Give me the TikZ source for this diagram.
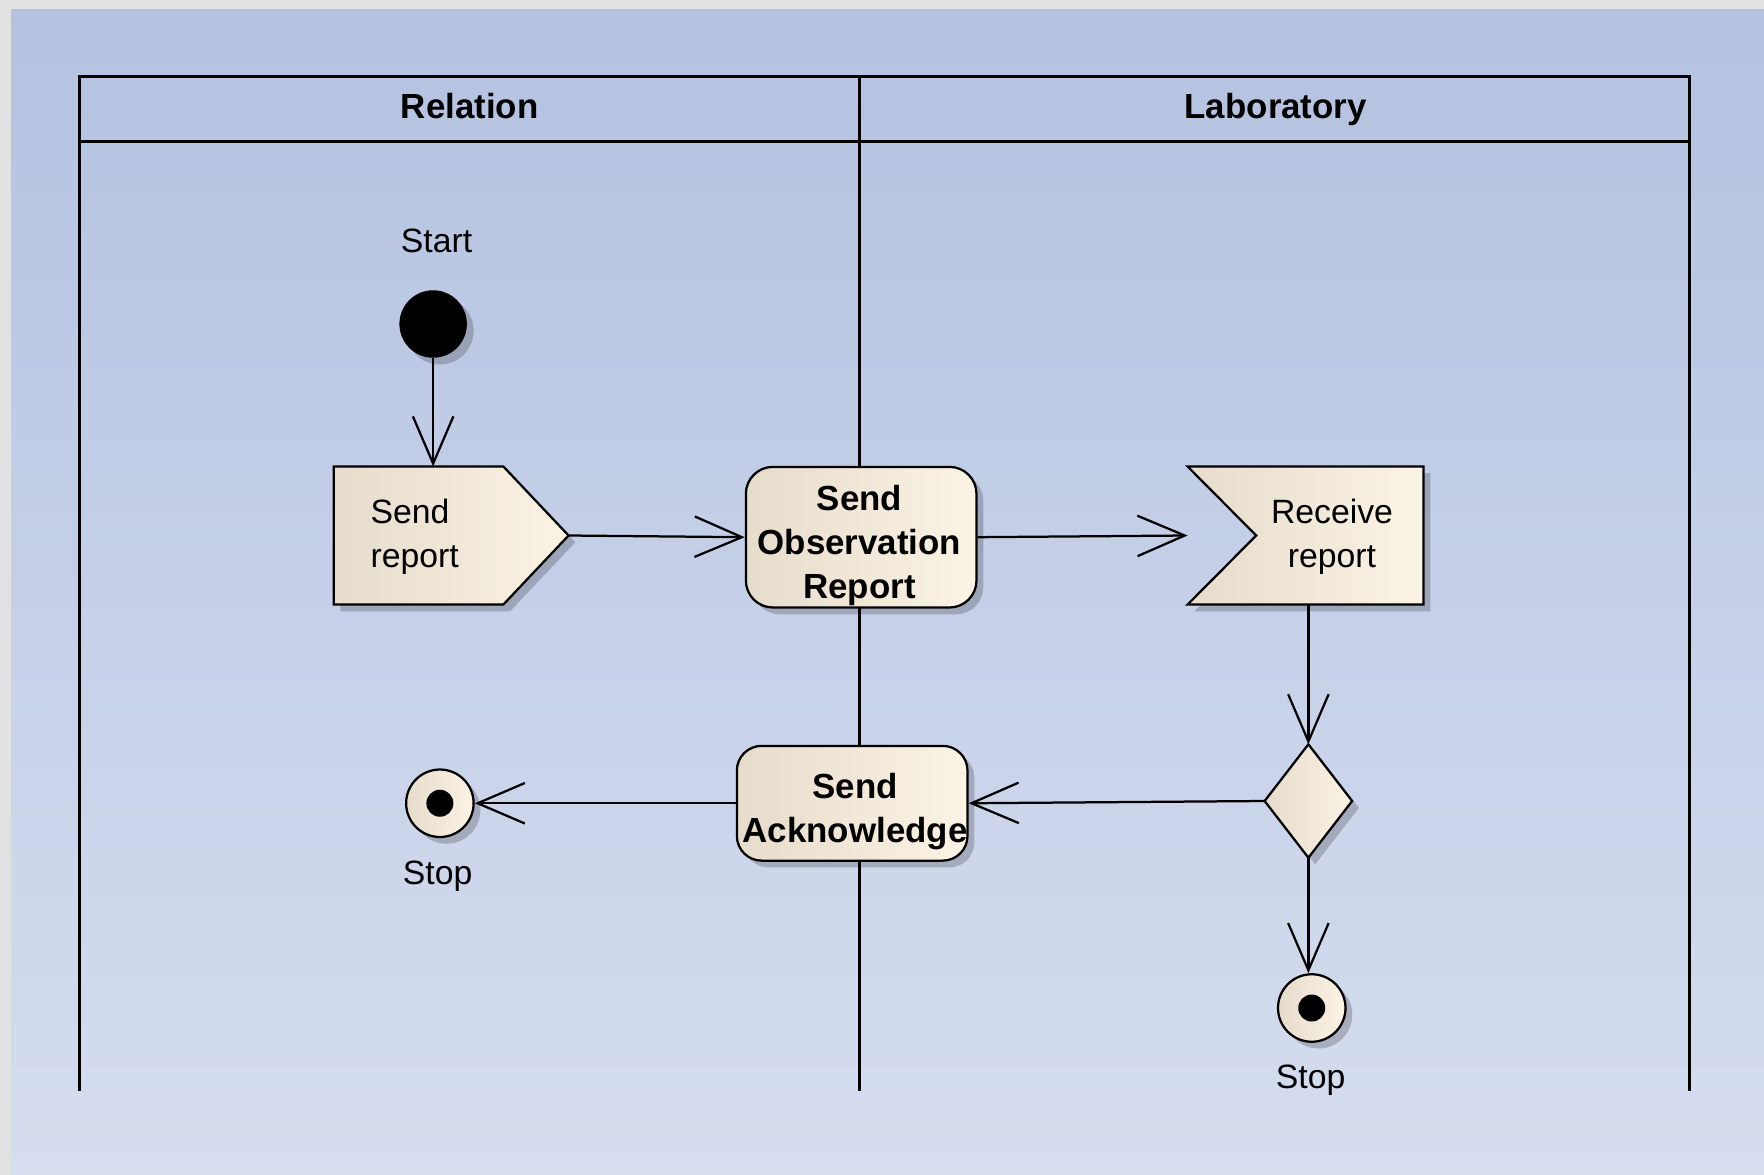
\documentclass[tikz,border=0pt]{standalone}
\usepackage{fontspec}
\setmainfont{Liberation Sans}
\usetikzlibrary{arrows.meta,shadows}
\definecolor{bgtop}{RGB}{180,194,224}
\definecolor{bgbot}{RGB}{214,221,239}
\definecolor{nodeL}{RGB}{230,220,204}
\definecolor{nodeR}{RGB}{251,243,228}
\definecolor{strip}{RGB}{226,226,226}
\begin{document}
\begin{tikzpicture}[x=0.5pt,y=-0.5pt,
  mysh/.style={drop shadow={shadow xshift=3pt,shadow yshift=-3pt,fill=black,opacity=0.2}},
  boxfill/.style={left color=nodeL,right color=nodeR,draw=black,line width=1pt,mysh},
  lane/.style={line width=1.25pt,draw=black},
  hdr/.style={font=\fontsize{15.5}{19.5}\selectfont\bfseries,inner sep=0pt,anchor=base},
  txt/.style={font=\fontsize{15}{19.5}\selectfont,inner sep=0pt},
  acttxt/.style={font=\fontsize{15.5}{19.5}\selectfont\bfseries,inner sep=0pt,align=center},
  actbox/.style={boxfill,rounded corners=12pt,inner sep=0pt},
  anchorbox/.style={inner sep=0pt,draw=none},
  stopc/.style={circle,boxfill,minimum size=30pt,inner sep=0pt},
  dotc/.style={circle,fill=black,minimum size=12pt,inner sep=0pt},
  flow/.style={line width=1pt,-{Straight Barb[length=21pt,width=18pt]}}
]
\useasboundingbox (0,0) rectangle (1568,1044);
% background
\fill[strip] (0,0) rectangle (1568,1044);
\shade[top color=bgtop,bottom color=bgbot] (10,8) rectangle (1568,1044);
% swimlanes
\draw[lane] (71,970) -- (71,68) -- (1502,68) -- (1502,970);
\draw[lane] (71,126) -- (1502,126);
\draw[lane] (764,68) -- (764,970);
\node[hdr] (relation) at (417.5,105) {Relation};
\node[hdr] (laboratory) at (1134,105) {Laboratory};
% start
\node[circle,fill=black,minimum size=30pt,inner sep=0pt,mysh] (start) at (385,288) {};
\node[txt] (startlbl) at (388,214) {Start};
% send report (send signal)
\node[anchorbox,minimum width=104pt,minimum height=61pt] (sendr) at (401,476) {};
\path[boxfill] (sendr.north west) -- ([xshift=-29pt]sendr.north east) -- (sendr.east)
  -- ([xshift=-29pt]sendr.south east) -- (sendr.south west) -- cycle;
\node[txt,align=left,anchor=west] (sendrtxt) at (329,477) {Send\\report};
% send observation report
\node[actbox,minimum width=102.5pt,minimum height=62.5pt] (sor) at (765.5,477.5) {};
\node[acttxt] (sortxt) at (764,485) {Send\\Observation\\Report};
% receive report (accept signal)
\node[anchorbox,minimum width=104.5pt,minimum height=61pt] (recv) at (1160.5,476) {};
\path[boxfill] (recv.north west) -- (recv.north east) -- (recv.south east)
  -- (recv.south west) -- ([xshift=30.5pt]recv.west) -- cycle;
\node[txt,align=center] (recvtxt) at (1184,477) {Receive\\report};
% decision
\node[anchorbox,minimum width=38.5pt,minimum height=50pt] (dec) at (1163,712) {};
\path[boxfill] (dec.north) -- (dec.east) -- (dec.south) -- (dec.west) -- cycle;
% send acknowledge
\node[actbox,rounded corners=11pt,minimum width=102.5pt,minimum height=51pt] (ack) at (757.5,714) {};
\node[acttxt] (acktxt) at (760,721) {Send\\Acknowledge};
% stops
\node[stopc] (stopl) at (391,714) {};
\node[dotc] (stopldot) at (stopl.center) {};
\node[txt] (stopllbl) at (389,779) {Stop};
\node[stopc] (stopr) at (1166,896) {};
\node[dotc] (stoprdot) at (stopr.center) {};
\node[txt] (stoprlbl) at (1165,960) {Stop};
% connectors
\draw[flow] (start.south) -- (start.south |- sendr.north);
\draw[flow] (sendr.east) -- (sor.west);
\draw[flow] (sor.east) -- (recv.west);
\draw[flow] (dec.north |- recv.south) -- (dec.north);
\draw[flow] (dec.west) -- (ack.east);
\draw[flow] (ack.west) -- (stopl.east);
\draw[flow] (dec.south) -- (dec.south |- stopr.north);
\end{tikzpicture}
\end{document}
